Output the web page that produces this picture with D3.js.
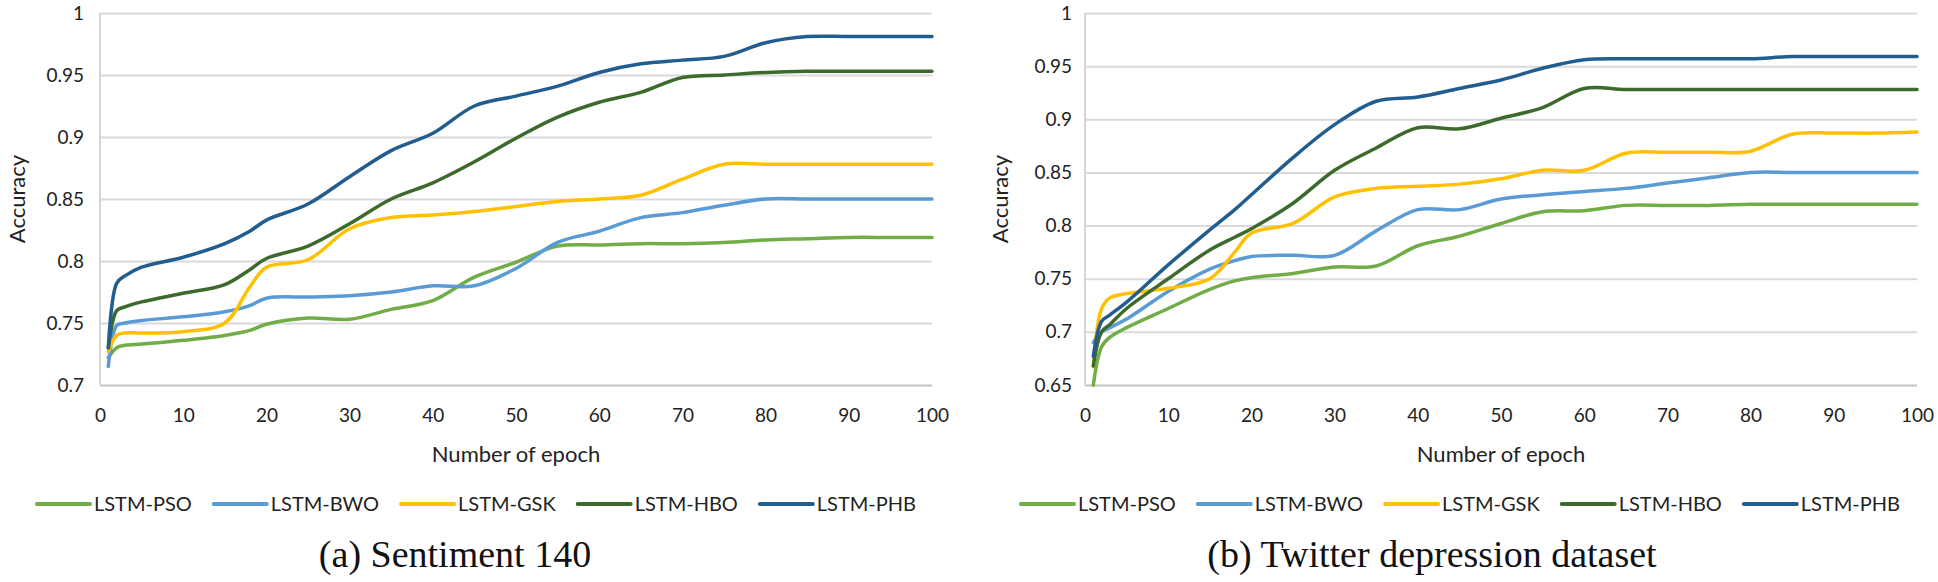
<!DOCTYPE html>
<html>
<head>
<meta charset="utf-8">
<script src="https://cdn.jsdelivr.net/npm/d3@7.9.0/dist/d3.min.js"></script>
<style>
  body { margin: 0; background: #fff; }
  svg { display: block; }
  .tick text { font-family: Lato, "Open Sans", sans-serif; font-size: 19px; fill: #222; }
</style>
</head>
<body>
<div id="chart"></div>
<script>
const epochs = [1, 2, 3, 5, 10, 15, 18, 20, 25, 30, 35, 40, 45, 50, 55, 60, 65, 70, 75, 80, 85, 90, 95, 100];
const xTicks = [0, 10, 20, 30, 40, 50, 60, 70, 80, 90, 100];
const seriesNames = ["LSTM-PSO", "LSTM-BWO", "LSTM-GSK", "LSTM-HBO", "LSTM-PHB"];
const seriesColors = ["#70ad47", "#5b9bd5", "#ffc000", "#3c6a2c", "#215d8f"];

// (a) Sentiment 140
const yTicksA = [0.7, 0.75, 0.8, 0.85, 0.9, 0.95, 1];
const sentPSO = [0.722, 0.730, 0.732, 0.733, 0.736, 0.740, 0.744, 0.749, 0.754, 0.753, 0.761, 0.768, 0.787, 0.799, 0.812, 0.813, 0.814, 0.814, 0.815, 0.817, 0.818, 0.819, 0.819, 0.819];
const sentBWO = [0.715, 0.748, 0.750, 0.752, 0.755, 0.759, 0.764, 0.770, 0.771, 0.772, 0.775, 0.780, 0.780, 0.794, 0.815, 0.824, 0.835, 0.839, 0.845, 0.850, 0.850, 0.850, 0.850, 0.850];
const sentGSK = [0.727, 0.740, 0.742, 0.742, 0.743, 0.750, 0.779, 0.795, 0.801, 0.826, 0.835, 0.837, 0.840, 0.844, 0.848, 0.850, 0.853, 0.866, 0.878, 0.878, 0.878, 0.878, 0.878, 0.878];
const sentHBO = [0.730, 0.760, 0.763, 0.767, 0.774, 0.781, 0.793, 0.802, 0.812, 0.830, 0.850, 0.863, 0.880, 0.899, 0.916, 0.928, 0.936, 0.948, 0.950, 0.952, 0.953, 0.953, 0.953, 0.953];
const sentPHB = [0.730, 0.782, 0.788, 0.795, 0.803, 0.814, 0.824, 0.833, 0.846, 0.868, 0.889, 0.903, 0.925, 0.933, 0.941, 0.952, 0.959, 0.962, 0.965, 0.976, 0.981, 0.981, 0.981, 0.981];

// (b) Twitter depression dataset
const yTicksB = [0.65, 0.7, 0.75, 0.8, 0.85, 0.9, 0.95, 1];
const twPSO = [0.650, 0.686, 0.695, 0.704, 0.722, 0.740, 0.748, 0.751, 0.755, 0.761, 0.762, 0.781, 0.790, 0.802, 0.813, 0.814, 0.819, 0.819, 0.819, 0.820, 0.820, 0.820, 0.820, 0.820];
const twBWO = [0.690, 0.700, 0.704, 0.712, 0.738, 0.759, 0.767, 0.771, 0.772, 0.772, 0.795, 0.815, 0.815, 0.825, 0.829, 0.832, 0.835, 0.840, 0.845, 0.850, 0.850, 0.850, 0.850, 0.850];
const twGSK = [0.667, 0.722, 0.732, 0.736, 0.741, 0.750, 0.775, 0.793, 0.802, 0.827, 0.835, 0.837, 0.839, 0.844, 0.852, 0.852, 0.868, 0.869, 0.869, 0.870, 0.886, 0.887, 0.887, 0.888];
const twHBO = [0.668, 0.700, 0.707, 0.722, 0.750, 0.777, 0.789, 0.797, 0.821, 0.852, 0.873, 0.892, 0.891, 0.901, 0.911, 0.929, 0.928, 0.928, 0.928, 0.928, 0.928, 0.928, 0.928, 0.928];
const twPHB = [0.677, 0.710, 0.716, 0.728, 0.763, 0.796, 0.815, 0.829, 0.864, 0.895, 0.917, 0.921, 0.929, 0.937, 0.948, 0.956, 0.957, 0.957, 0.957, 0.957, 0.959, 0.959, 0.959, 0.959];

const svg = d3.select("#chart").append("svg")
    .attr("width", 1938)
    .attr("height", 582)
    .style("background", "#fff");

const plotTop = 13, plotBottom = 385;

function drawPanel(p) {
    const x = d3.scaleLinear().domain([0, 100]).range([p.left, p.right]);
    const y = d3.scaleLinear().domain([p.yTicks[0], 1]).range([plotBottom, plotTop]);
    const g = svg.append("g");

    // gridlines
    g.append("g")
        .attr("transform", `translate(${p.left},0)`)
        .call(d3.axisLeft(y).tickValues(p.yTicks).tickSize(-(p.right - p.left)).tickFormat(""))
        .call(a => a.select(".domain").remove())
        .call(a => a.selectAll(".tick line")
            .attr("stroke", d => d === p.yTicks[0] ? "#c4c4c4" : "#d9d9d9")
            .attr("stroke-width", 2));

    // vertical axis line
    g.append("line")
        .attr("x1", p.left).attr("x2", p.left)
        .attr("y1", plotTop).attr("y2", plotBottom)
        .attr("stroke", "#d4d4d4").attr("stroke-width", 2);

    // y tick labels
    g.append("g")
        .attr("transform", `translate(${p.left},0)`)
        .call(d3.axisLeft(y).tickValues(p.yTicks).tickSize(0).tickPadding(p.yPad).tickFormat(d => d))
        .call(a => a.select(".domain").remove());

    // x tick labels
    g.append("g")
        .attr("transform", `translate(0,${plotBottom})`)
        .call(d3.axisBottom(x).tickValues(xTicks).tickSize(0).tickPadding(24))
        .call(a => a.select(".domain").remove());

    // axis titles
    g.append("text")
        .attr("x", (p.left + p.right) / 2).attr("y", 462)
        .attr("text-anchor", "middle")
        .style("font-family", "Lato, sans-serif").style("font-size", "22px").style("fill", "#222")
        .text("Number of epoch");

    g.append("text")
        .attr("transform", `translate(${p.yTitleX},199) rotate(-90)`)
        .attr("text-anchor", "middle")
        .attr("dy", "0.35em")
        .style("font-family", "Lato, sans-serif").style("font-size", "22px").style("fill", "#222")
        .text("Accuracy");

    // series
    const line = d3.line()
        .x((d, i) => x(epochs[i]))
        .y(d => y(d))
        .curve(d3.curveCatmullRom.alpha(0.5));

    p.series.forEach((vals, k) => {
        g.append("path")
            .attr("d", line(vals))
            .attr("fill", "none")
            .attr("stroke", seriesColors[k])
            .attr("stroke-width", 3.5)
            .attr("stroke-linecap", "round")
            .attr("stroke-linejoin", "round");
    });

    // legend
    let lx = p.legendX;
    seriesNames.forEach((name, k) => {
        g.append("line")
            .attr("x1", lx).attr("x2", lx + 53)
            .attr("y1", 504).attr("y2", 504)
            .attr("stroke", seriesColors[k]).attr("stroke-width", 4)
            .attr("stroke-linecap", "round");
        const t = g.append("text")
            .attr("x", lx + 57).attr("y", 504)
            .attr("dy", "0.35em")
            .style("font-family", "Lato, sans-serif").style("font-size", "20px").style("fill", "#222")
            .text(name);
        lx += 57 + t.node().getComputedTextLength() + 22;
    });

    // caption
    g.append("text")
        .attr("x", p.captionX).attr("y", 567)
        .attr("text-anchor", "middle")
        .style("font-family", "'Liberation Serif', 'DejaVu Serif', serif").style("font-size", "38px").style("fill", "#111")
        .text(p.caption);
}

drawPanel({
    left: 100, right: 932, yTicks: yTicksA, yPad: 16, yTitleX: 17,
    series: [sentPSO, sentBWO, sentGSK, sentHBO, sentPHB],
    legendX: 37, captionX: 455, caption: "(a) Sentiment 140"
});

drawPanel({
    left: 1085, right: 1917, yTicks: yTicksB, yPad: 13, yTitleX: 1000,
    series: [twPSO, twBWO, twGSK, twHBO, twPHB],
    legendX: 1021, captionX: 1432, caption: "(b) Twitter depression dataset"
});
</script>
</body>
</html>
